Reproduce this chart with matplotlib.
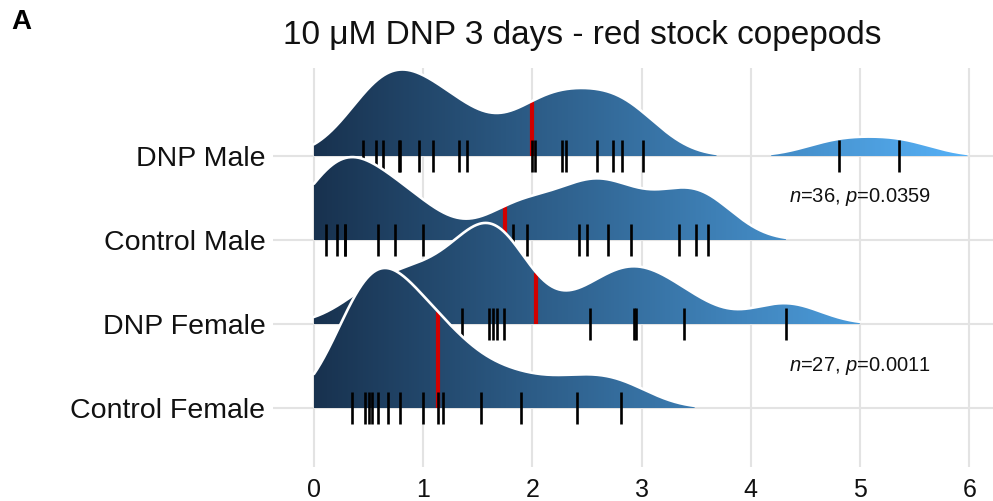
import numpy as np
import matplotlib
matplotlib.use('Agg')
import matplotlib.pyplot as plt
from matplotlib.colors import LinearSegmentedColormap
from matplotlib.patches import Polygon

plt.rcParams['font.family'] = ['Liberation Sans', 'DejaVu Sans']
plt.rcParams['mathtext.fontset'] = 'custom'
plt.rcParams['mathtext.it'] = 'Liberation Sans:italic'
plt.rcParams['mathtext.rm'] = 'Liberation Sans'

# ---- data ----
groups = ['Control Female', 'DNP Female', 'Control Male', 'DNP Male']
dnp_male = [0.45, 0.57, 0.63, 0.78, 0.79, 0.96, 1.09, 1.33, 1.40, 2.00,
            2.02, 2.27, 2.31, 2.59, 2.74, 2.82, 3.01, 4.81, 5.36]
control_male = [0.11, 0.21, 0.28, 0.28, 0.59, 0.74, 1.00, 1.82, 1.95, 2.43,
                2.50, 2.69, 2.90, 3.34, 3.50, 3.61]
dnp_female = [0.50, 0.80, 1.05, 1.36, 1.60, 1.64, 1.68, 1.74, 2.53, 2.93,
              2.95, 3.39, 4.32]
control_female = [0.35, 0.47, 0.50, 0.53, 0.59, 0.68, 0.79, 1.00, 1.14, 1.18,
                  1.53, 1.90, 2.41, 2.81]
n_male = 36
n_female = 27
p_male = 0.0359
p_female = 0.0011
x_ticks = [0, 1, 2, 3, 4, 5, 6]
title = '10 \u03bcM DNP 3 days - red stock copepods'

series = {'Control Female': control_female, 'DNP Female': dnp_female,
          'Control Male': control_male, 'DNP Male': dnp_male}

# ---- figure ----
fig = plt.figure(figsize=(9.93, 5.01), dpi=100)
ax = fig.add_axes([0.2749, 0.0679, 0.7251, 0.7964])

bw = 0.32
grid = np.linspace(0, 6, 1500)


def kde(v):
    v = np.asarray(v, float)
    z = (grid[:, None] - v[None, :]) / bw
    return np.exp(-0.5 * z ** 2).sum(axis=1) / (len(v) * bw * np.sqrt(2 * np.pi))


dens = {g: kde(series[g]) for g in groups}
dmax = max(d.max() for d in dens.values())
scale = 1.667
rel_min = 0.015
cmap = LinearSegmentedColormap.from_list('ggblue', ['#18324F', '#56B1F7'])
grad = np.linspace(0, 1, 600)[None, :]

# draw from top ridge to bottom ridge so lower ridges overlap upper ones
for idx in range(len(groups) - 1, -1, -1):
    g = groups[idx]
    y0 = idx + 1
    z = 10 + (len(groups) - idx) * 5
    h = dens[g] / dmax * scale
    mask = h >= rel_min * scale
    edges = np.flatnonzero(np.diff(np.r_[0, mask.astype(int), 0]))
    runs = list(zip(edges[::2], edges[1::2]))
    for a, b in runs:
        xs = grid[a:b]
        hs = h[a:b]
        verts = [(xs[0], y0)] + list(zip(xs, y0 + hs)) + [(xs[-1], y0)]
        poly = Polygon(verts, closed=True, facecolor='none', edgecolor='none')
        ax.add_patch(poly)
        im = ax.imshow(grad, extent=[0, 6, y0, y0 + scale + 0.05], aspect='auto',
                       cmap=cmap, origin='lower', zorder=z, interpolation='bilinear')
        im.set_clip_path(poly)
    m = float(np.mean(series[g]))
    hm = float(np.interp(m, grid, h))
    ax.plot([m, m], [y0, y0 + hm], color='#D10000', lw=3.0, zorder=z + 0.1,
            solid_capstyle='butt')
    for a, b in runs:
        ax.plot(grid[a:b], y0 + h[a:b], color='white', lw=1.9, zorder=z + 0.2,
                solid_capstyle='round')
    ax.vlines(series[g], y0 - 0.19, y0 + 0.19, color='black', lw=1.9, zorder=z + 0.3)

ax.set_xlim(-0.375, 6.218)
ax.set_ylim(0.298, 5.048)
ax.set_xticks(x_ticks)
ax.set_xticklabels([str(t) for t in x_ticks], fontsize=18, color='#111111')
ax.set_yticks(range(1, len(groups) + 1))
ax.set_yticklabels(groups, fontsize=20.5, color='#111111')
ax.tick_params(axis='both', length=0)
ax.tick_params(axis='x', pad=8)
ax.tick_params(axis='y', pad=5.5)
ax.grid(True, color='#E3E3E3', lw=1.5, zorder=0)
ax.set_axisbelow(True)
for s in ax.spines.values():
    s.set_visible(False)

ax.text(5.0, 3.515, f'$n$={n_male}, $p$={p_male}', ha='center', va='center',
        fontsize=14.5, color='#111111', zorder=50)
ax.text(5.0, 1.5, f'$n$={n_female}, $p$={p_female}', ha='center', va='center',
        fontsize=14.5, color='#111111', zorder=50)

fig.text(0.5866, 0.930, title, ha='center', va='center', fontsize=24, color='#111111')
fig.text(0.011, 0.956, 'A', ha='left', va='center', fontsize=20, fontweight='bold')

fig.savefig('out.png', dpi=100)
